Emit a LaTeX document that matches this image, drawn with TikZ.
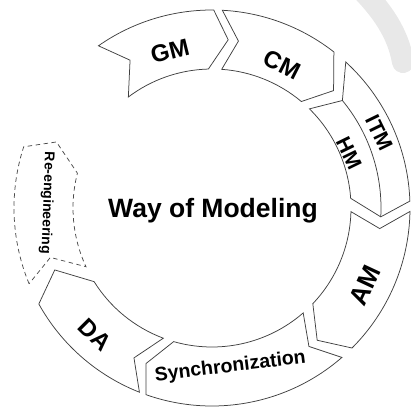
\documentclass[tikz,border=0pt]{standalone}
\usepackage{fontspec}
\setmainfont{Liberation Sans}
\def\Ro{198pt}
\def\Rm{169pt}
\def\Ri{139pt}
% #1 options, #2 so, #3 si, #4 sn, #5 eo, #6 ei, #7 et
\newcommand\ringseg[7][]{%
  \draw[segline,#1] (#2:\Ro) arc[start angle=#2, end angle=#5, radius=\Ro]
    -- (#7:\Rm) -- (#6:\Ri) arc[start angle=#6, end angle=#3, radius=\Ri]
    -- (#4:\Rm) -- cycle;}
\tikzset{
  segline/.style={draw=black!75, line width=0.75pt, line join=miter},
  dashseg/.style={draw=black!70, line width=0.75pt, dash pattern=on 4.5pt off 3.5pt},
  lab/.style={font=\bfseries\fontsize{24}{24}\selectfont, inner sep=0pt},
  labs/.style={font=\bfseries\fontsize{21}{21}\selectfont, inner sep=0pt},
}
\begin{document}
\begin{tikzpicture}[x=1pt,y=1pt]
\useasboundingbox (-212,-204) rectangle (198,208);
% faint background arc (top right)
\draw[black!9, line width=22pt, line cap=round]
  (146,222) .. controls (170,198) and (186,175) .. (191,146);
% segments
\ringseg{125}{127}{119}{89.5}{91.5}{84.5}
\ringseg{87}{86}{81}{52}{50}{44}
\ringseg{47.5}{45.5}{39.5}{2}{4}{-3}
\draw[segline] (39.5:\Rm) arc[start angle=39.5, end angle=-3, radius=\Rm];
\ringseg{-1}{-1.5}{-7}{-45}{-43.5}{-51.5}
\ringseg{-49}{-49}{-55}{-109.5}{-106}{-113}
\ringseg{-111.5}{-110.5}{-117.5}{-151}{-148}{-158.5}
\ringseg[dashseg]{202.5}{205}{197}{162}{165.5}{157}
% labels
\node[lab, rotate=14] (gm) at (-42,157) {GM};
\node[lab, rotate=-27] (cm) at (70,143) {CM};
\node[labs, rotate=-64] (itm) at (167,75) {ITM};
\node[labs, rotate=-64] (hm) at (137,55) {HM};
\node[lab, font=\bfseries\fontsize{26}{26}\selectfont, rotate=65] (am) at (153,-77) {AM};
\node[font=\bfseries\fontsize{19.5}{19.5}\selectfont, inner sep=0pt, rotate=7, anchor=base] (sync) at (19,-164) {Synchronization};
\node[lab, rotate=-45] (da) at (-117,-127) {DA};
\node[font=\bfseries\fontsize{14}{14}\selectfont, inner sep=0pt, rotate=-92] (re) at (-165,5) {Re-engineering};
\node[font=\bfseries\fontsize{26.5}{26.5}\selectfont, inner sep=0pt] (way) at (1,-3) {Way of Modeling};
\end{tikzpicture}
\end{document}
